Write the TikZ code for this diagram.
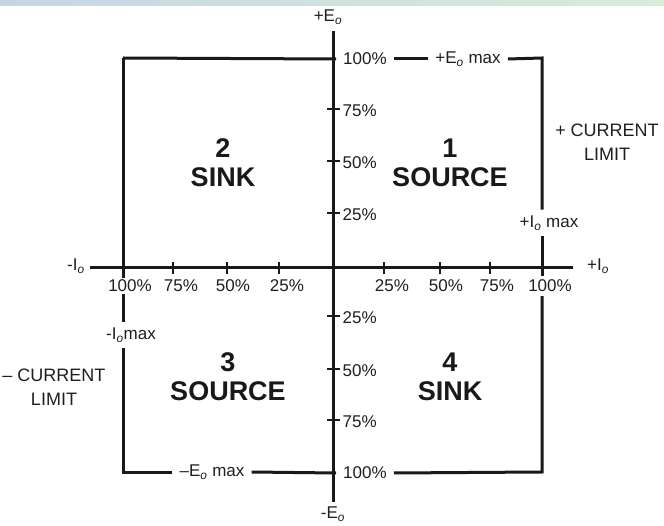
\documentclass[tikz,border=0pt]{standalone}
\usepackage{fontspec}
\setmainfont{Liberation Sans}
\newcommand{\osub}{\textsubscript{\textit{o}}}
\begin{document}
\begin{tikzpicture}[x=1pt,y=-1pt,
  ln/.style={line width=3pt, draw=black!90},
  tk/.style={line width=1.6pt, draw=black!90},
  lbl/.style={font=\fontsize{17}{17}\selectfont, text=black!88, inner sep=1.5pt},
  gap/.style={inner xsep=7pt, inner ysep=6pt},
  qd/.style={font=\fontsize{27}{29}\selectfont\bfseries, text=black!90, align=center, inner sep=0pt},
  cl/.style={font=\fontsize{18}{24}\selectfont, text=black!88, align=center, inner sep=0pt},
]
\useasboundingbox (0,0) rectangle (664,526);
\fill[white] (0,0) rectangle (664,526);
\shade[left color={rgb,255:red,200;green,212;blue,230}, right color={rgb,255:red,218;green,235;blue,216}] (0,0) rectangle (664,6);

% corners and axis ends
\coordinate (TL) at (123,58);
\coordinate (TR) at (542,58);
\coordinate (BL) at (123,472);
\coordinate (BR) at (542,472);
\coordinate (xl) at (90,268);
\coordinate (xr) at (573,268);
\coordinate (yt) at (333,31);
\coordinate (yb) at (333,502);

% axes
\draw[ln] (xl) -- (xr);
\draw[ln] (yt) -- (yb);

% axis labels
\node[lbl] (ept) at (328,17) {+E\osub};
\node[lbl] (emt) at (333,514) {-E\osub};
\node[lbl] (imt) at (76,266) {-I\osub};
\node[lbl] (ipt) at (598,266) {+I\osub};

% boundary labels
\node[lbl, gap, anchor=west] (t100) at (336,59) {100\%};
\node[lbl, gap] (temax) at (468,59) {+E\osub\ max};
\node[lbl, gap] (rimax) at (549,223) {+I\osub\ max};
\node[lbl, gap] (limax) at (131,335) {-I\osub max};
\node[lbl, gap, anchor=west] (b100) at (336,473) {100\%};
\node[lbl, gap] (bemax) at (212,472) {–E\osub\ max};

% x tick labels
\node[lbl] (xl100) at (130,286) {100\%};
\node[lbl] (xl75) at (181,286) {75\%};
\node[lbl] (xl50) at (233,286) {50\%};
\node[lbl] (xl25) at (287,286) {25\%};
\node[lbl] (xr25) at (392,286) {25\%};
\node[lbl] (xr50) at (446,286) {50\%};
\node[lbl] (xr75) at (497,286) {75\%};
\node[lbl, inner ysep=4pt] (xr100) at (550,286) {100\%};

% y tick labels
\node[lbl, anchor=west] (yt75) at (341,111) {75\%};
\node[lbl, anchor=west] (yt50) at (341,163) {50\%};
\node[lbl, anchor=west] (yt25) at (341,215) {25\%};
\node[lbl, anchor=west] (yb25) at (341,318) {25\%};
\node[lbl, anchor=west] (yb50) at (341,371) {50\%};
\node[lbl, anchor=west] (yb75) at (341,422) {75\%};

% ticks
\foreach \x in {173,227,279,384,440,490} \draw[tk] (\x,262) -- (\x,274);
\foreach \y in {109,161,213,316,369,420} \draw[tk] (327,\y) -- (340,\y);

% boundary (limit) lines
\draw[ln] (TL) -- (t100.west);
\draw[ln] (t100.east) -- (temax.west);
\draw[ln] (temax.east) -- (TR) -- (rimax.north -| TR);
\draw[ln] (rimax.south -| TR) -- (xr100.north -| TR);
\draw[ln] (xr100.south -| TR) -- (BR) -- (b100.east);
\draw[ln] (b100.west) -- (bemax.east);
\draw[ln] (bemax.west) -- (BL) -- (limax.south -| BL);
\draw[ln] (limax.north -| BL) -- (xl100.south -| BL);
\draw[ln] (xl100.north -| BL) -- (TL);

% quadrant labels
\node[qd] (q1) at (450,163) {1\\SOURCE};
\node[qd] (q2) at (223,163) {2\\SINK};
\node[qd] (q3) at (228,377) {3\\SOURCE};
\node[qd] (q4) at (450,377) {4\\SINK};

% current limit labels
\node[cl] (cpos) at (607,142) {+ CURRENT\\LIMIT};
\node[cl] (cneg) at (54,387) {– CURRENT\\LIMIT};
\end{tikzpicture}
\end{document}
